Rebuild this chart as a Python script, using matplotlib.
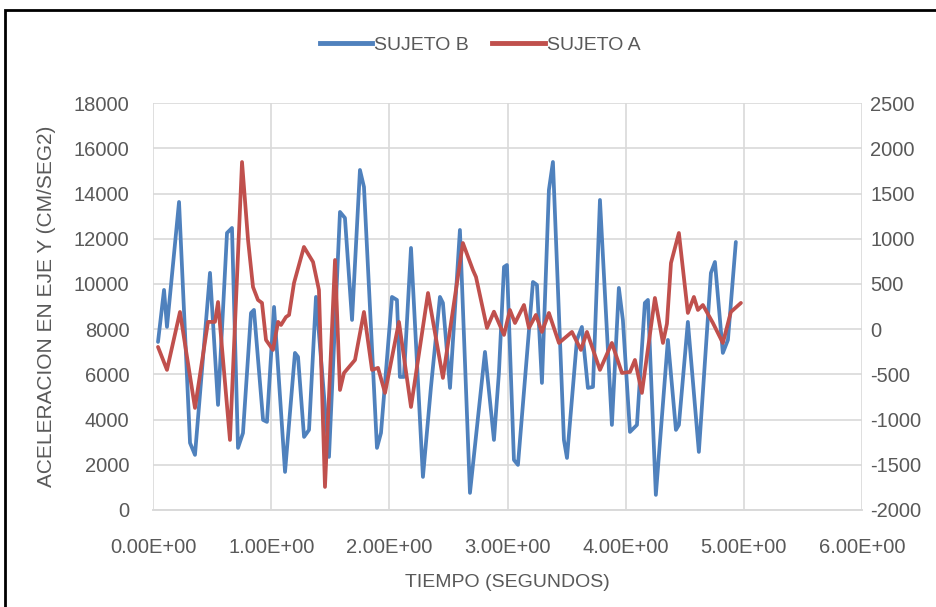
"""
Aceleracion en eje Y de dos sujetos frente al tiempo (doble eje Y).
"""
import matplotlib
matplotlib.use("Agg")
import matplotlib.pyplot as plt
from matplotlib.lines import Line2D
from matplotlib.patches import Rectangle
from matplotlib.ticker import FuncFormatter

# ── Datos ─────────────────────────────────────────────────────────────────────
t_b = [0.042, 0.093, 0.118, 0.22, 0.313, 0.355, 0.482, 0.55, 0.626, 0.668,
       0.719, 0.761, 0.829, 0.854, 0.931, 0.964, 1.024, 1.117, 1.201, 1.227,
       1.278, 1.320, 1.379, 1.489, 1.582, 1.624, 1.684, 1.751, 1.785, 1.895,
       1.929, 2.022, 2.064, 2.089, 2.123, 2.183, 2.284, 2.352, 2.428, 2.453,
       2.513, 2.597, 2.682, 2.809, 2.885, 2.927, 2.970, 2.995, 3.054, 3.088,
       3.215, 3.249, 3.291, 3.350, 3.384, 3.477, 3.503, 3.587, 3.629, 3.680,
       3.723, 3.782, 3.883, 3.942, 3.976, 4.036, 4.095, 4.162, 4.188, 4.255,
       4.357, 4.425, 4.450, 4.526, 4.619, 4.721, 4.755, 4.822, 4.865, 4.932]
sujeto_b = [7434, 9735, 8100, 13628, 2965, 2434, 10490, 4646, 12256, 12478,
            2743, 3400, 8717, 8850, 3982, 3894, 8982, 1681, 6947, 6770,
            3230, 3540, 9425, 2345, 13186, 12920, 8407, 15044, 14292, 2743,
            3407, 9425, 9292, 5885, 5885, 11593, 1460, 5442, 9425, 9160,
            5398, 12389, 752, 6991, 3097, 6062, 10752, 10840, 2212, 1991,
            10088, 9956, 5619, 14159, 15398, 3097, 2300, 7522, 8097, 5398,
            5442, 13717, 3761, 9823, 8407, 3451, 3761, 9160, 9292, 664,
            7522, 3540, 3761, 8319, 2566, 10487, 10973, 6947, 7522, 11858]

t_a = [0.042, 0.118, 0.228, 0.355, 0.465, 0.524, 0.55, 0.651, 0.753, 0.804,
       0.846, 0.888, 0.922, 0.956, 1.015, 1.058, 1.083, 1.125, 1.151, 1.193,
       1.277, 1.354, 1.404, 1.455, 1.540, 1.582, 1.616, 1.709, 1.785, 1.853,
       1.904, 1.963, 2.081, 2.183, 2.327, 2.453, 2.622, 2.707, 2.733, 2.826,
       2.885, 2.970, 3.020, 3.063, 3.139, 3.181, 3.240, 3.291, 3.350, 3.435,
       3.545, 3.621, 3.672, 3.782, 3.883, 3.968, 4.036, 4.078, 4.137, 4.247,
       4.315, 4.349, 4.383, 4.450, 4.526, 4.577, 4.611, 4.653, 4.738, 4.822,
       4.890, 4.975]
sujeto_a = [-197, -451, 190, -872, 80, 80, 300, -1226, 1849, 986,
            466, 323, 290, -120, -230, 80, 46, 134, 157, 511,
            909, 743, 433, -1746, 765, -673, -485, -341, 190, -451,
            -429, -706, 80, -861, 400, -540, 953, 654, 577, 13,
            193, -64, 212, 68, 267, 13, 157, -31, 179, -153,
            -31, -230, -31, -451, -153, -485, -474, -341, -706, 345,
            -153, 60, 732, 1064, 179, 356, 212, 267, 68, -153,
            190, 290]

x_ticks = [0, 1, 2, 3, 4, 5, 6]
left_ticks = list(range(0, 18001, 2000))
right_ticks = list(range(-2000, 2501, 500))

BLUE = "#4f81bd"
RED = "#c0504d"
GRID = "#d9d9d9"
TEXT = "#595959"

plt.rcParams["font.family"] = ["Liberation Sans", "DejaVu Sans"]
plt.rcParams["axes.unicode_minus"] = False

fig = plt.figure(figsize=(9.36, 6.07), dpi=100)
ax = fig.add_axes([0.1635, 0.160, 0.7575, 0.670])
ax2 = ax.twinx()

ax.plot(t_b, sujeto_b, color=BLUE, lw=2.7, solid_joinstyle="round",
        solid_capstyle="round", zorder=3)
ax2.plot(t_a, sujeto_a, color=RED, lw=2.7, solid_joinstyle="round",
         solid_capstyle="round", zorder=3)

ax.set_xlim(0, 6)
ax.set_ylim(0, 18000)
ax2.set_ylim(-2000, 2500)
ax.set_xticks(x_ticks)
ax.set_yticks(left_ticks)
ax2.set_yticks(right_ticks)
ax.xaxis.set_major_formatter(FuncFormatter(lambda v, _: f"{v:.2E}"))

ax.grid(True, color=GRID, lw=1.2)
ax.set_axisbelow(True)
for a in (ax, ax2):
    for side in ("top", "left", "right"):
        a.spines[side].set_visible(False)
    a.spines["bottom"].set_color(GRID)
    a.spines["bottom"].set_linewidth(1.2)
    a.tick_params(length=0, labelsize=14.5, labelcolor=TEXT)
ax.tick_params(axis="x", pad=20)
ax.tick_params(axis="y", pad=17)
ax2.tick_params(axis="y", pad=6)

ax.set_xlabel("TIEMPO (SEGUNDOS)", fontsize=14, color=TEXT)
ax.set_ylabel("ACELERACION EN EJE Y (CM/SEG2)", fontsize=15, color=TEXT)
ax.xaxis.set_label_coords(0.5, -0.158)
ax.yaxis.set_label_coords(-0.137, 0.5)

handles = [Line2D([], [], color=BLUE, lw=3.5), Line2D([], [], color=RED, lw=3.5)]
fig.legend(handles, ["SUJETO B", "SUJETO A"], loc="center",
           bbox_to_anchor=(0.513, 0.926), ncol=2, frameon=False, fontsize=14,
           handlelength=2.7, handletextpad=0.1, columnspacing=1.2,
           labelcolor=TEXT)

# marco negro del grafico
fig.patches.append(Rectangle((5 / 936, -0.05), 1.1, 1.05 - 10 / 607,
                             transform=fig.transFigure, fill=False,
                             edgecolor="black", lw=2))

fig.savefig("out.png", dpi=100)
